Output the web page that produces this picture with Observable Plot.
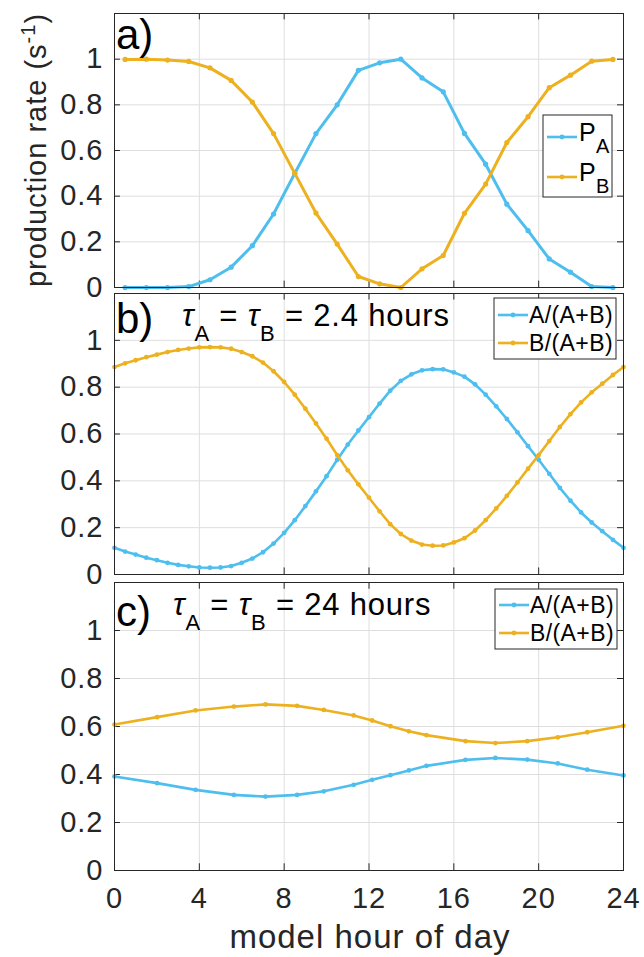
<!DOCTYPE html>
<html>
<head>
<meta charset="utf-8">
<script src="https://cdn.jsdelivr.net/npm/d3@7"></script>
<script src="https://cdn.jsdelivr.net/npm/@observablehq/plot@0.6"></script>
<style>
  body { margin: 0; background: #fff; }
  #fig { position: relative; width: 644px; height: 957px; overflow: hidden; font-family: "Liberation Sans", Arial, Helvetica, sans-serif; }
  #fig svg { position: absolute; left: 0; overflow: visible; }
</style>
</head>
<body>
<div id="fig"></div>
<script>
// ---------- data ----------
// panel a: production rates at hourly mid-points
const hoursA = [0.5,1.5,2.5,3.5,4.5,5.5,6.5,7.5,8.5,9.5,10.5,11.5,12.5,13.5,14.5,15.5,16.5,17.5,18.5,19.5,20.5,21.5,22.5,23.5];
const prodA  = [0,0,0,0.004,0.034,0.089,0.183,0.322,0.5,0.674,0.80,0.951,0.984,1.0,0.918,0.857,0.675,0.54,0.365,0.249,0.125,0.067,0.004,0];
const prodB  = [0.999,1.0,0.996,0.99,0.962,0.907,0.812,0.674,0.5,0.326,0.19,0.048,0.016,0,0.082,0.14,0.325,0.453,0.635,0.748,0.875,0.93,0.991,0.999];

// panel b: tau = 2.4 hours
const hoursB = [0,0.5,1,1.5,2,2.5,3,3.5,4,4.5,5,5.5,6,6.5,7,7.5,8,8.5,9,9.5,10,10.5,11,11.5,12,12.5,13,13.5,14,14.5,15,15.5,16,16.5,17,17.5,18,18.5,19,19.5,20,20.5,21,21.5,22,22.5,23,23.5,24];
const fracA_b = [0.114,0.098,0.085,0.072,0.061,0.050,0.041,0.035,0.030,0.029,0.030,0.036,0.050,0.068,0.095,0.132,0.178,0.232,0.292,0.355,0.420,0.490,0.555,0.615,0.672,0.730,0.785,0.827,0.855,0.872,0.877,0.876,0.863,0.845,0.812,0.768,0.718,0.664,0.607,0.548,0.490,0.430,0.370,0.315,0.265,0.222,0.185,0.148,0.114];
const fracB_b = [0.886,0.902,0.915,0.928,0.939,0.950,0.959,0.965,0.970,0.971,0.970,0.964,0.950,0.932,0.905,0.868,0.822,0.768,0.708,0.645,0.580,0.510,0.445,0.385,0.328,0.270,0.215,0.173,0.145,0.128,0.123,0.124,0.137,0.155,0.188,0.232,0.282,0.336,0.393,0.452,0.510,0.570,0.630,0.685,0.735,0.778,0.815,0.852,0.886];

// panel c: tau = 24 hours
const hoursC = [0,2.01,3.82,5.63,7.12,8.61,9.87,11.28,12.15,13.01,13.88,14.71,16.55,17.96,19.46,20.9,22.29,24];
const fracA_c = [0.392,0.364,0.336,0.315,0.308,0.315,0.33,0.357,0.378,0.397,0.417,0.436,0.461,0.469,0.462,0.446,0.42,0.396];
const fracB_c = [0.608,0.639,0.667,0.683,0.692,0.686,0.669,0.646,0.625,0.601,0.58,0.564,0.539,0.531,0.539,0.555,0.576,0.603];

// ticks
const xTickValues = [0,4,8,12,16,20,24];
const yTickValues = [0,0.2,0.4,0.6,0.8,1];
const xGrid = [4,8,12,16,20];
const yGrid = [0.2,0.4,0.6,0.8,1];

// ---------- drawing ----------
const W = 644, ML = 114, MR = 21;
const BLUE = "#4DBEEE", ORANGE = "#EDB120", INK = "#262626";
const FONT = '"Liberation Sans", Arial, Helvetica, sans-serif';
const fig = document.getElementById("fig");

const rows = (xs, ys) => xs.map((t, i) => ({t, v: ys[i]}));

function panel({top, height, mt, mb, series, showX}) {
  const marks = [
    Plot.ruleX(xGrid, {stroke: "#dedede", strokeWidth: 1}),
    Plot.ruleY(yGrid, {stroke: "#dedede", strokeWidth: 1}),
    Plot.ruleX(xGrid, {y1: 0, y2: 0.028, stroke: INK}),
    Plot.ruleX(xGrid, {y1: 1.172, y2: 1.2, stroke: INK}),
    Plot.ruleY(yGrid, {x1: 0, x2: 0.28, stroke: INK}),
    Plot.ruleY(yGrid, {x1: 23.72, x2: 24, stroke: INK}),
    Plot.axisY({ticks: yTickValues, tickSize: 0, tickPadding: 11, tickFormat: d => String(d), fontSize: 29, label: null})
  ];
  if (showX) marks.push(Plot.axisX({ticks: xTickValues, tickSize: 0, tickPadding: 17, tickFormat: d => String(d), fontSize: 29, label: null}));
  for (const s of series) {
    marks.push(Plot.line(s.data, {x: "t", y: "v", stroke: s.color, strokeWidth: s.lw}));
    marks.push(Plot.dot(s.data, {x: "t", y: "v", fill: s.color, r: s.r}));
  }
  marks.push(Plot.frame({stroke: INK, strokeWidth: 1}));
  const svg = Plot.plot({
    width: W, height, marginLeft: ML, marginRight: MR, marginTop: mt, marginBottom: mb,
    x: showX ? {domain: [0, 24]} : {domain: [0, 24], axis: null},
    y: {domain: [0, 1.2]},
    style: {background: "transparent", color: INK, fontFamily: FONT, overflow: "visible", letterSpacing: "1px"},
    marks
  });
  svg.style.top = top + "px";
  fig.appendChild(svg);
}

panel({top: 0, height: 290, mt: 13, mb: 3, showX: false, series: [
  {data: rows(hoursA, prodA), color: BLUE, lw: 3, r: 2.6},
  {data: rows(hoursA, prodB), color: ORANGE, lw: 3, r: 2.6}
]});
panel({top: 290, height: 287, mt: 3, mb: 3, showX: false, series: [
  {data: rows(hoursB, fracA_b), color: BLUE, lw: 2.6, r: 2.4},
  {data: rows(hoursB, fracB_b), color: ORANGE, lw: 2.6, r: 2.4}
]});
panel({top: 577, height: 380, mt: 5, mb: 87, showX: true, series: [
  {data: rows(hoursC, fracA_c), color: BLUE, lw: 2.6, r: 2.4},
  {data: rows(hoursC, fracB_c), color: ORANGE, lw: 2.6, r: 2.4}
]});

// ---------- annotations & legends ----------
const ov = d3.select(fig).append("svg")
  .attr("width", W).attr("height", 957)
  .style("top", "0px").style("pointer-events", "none")
  .style("font-family", FONT).style("white-space", "pre");

// axis titles
const yl = ov.append("text").attr("transform", "translate(46,150) rotate(-90)")
  .attr("text-anchor", "middle").attr("font-size", 29).attr("fill", INK)
  .style("letter-spacing", "1px");
yl.append("tspan").text("production rate (s");
yl.append("tspan").attr("font-size", 20).attr("dy", -11).text("-1");
yl.append("tspan").attr("dy", 11).text(")");

ov.append("text").attr("x", 370).attr("y", 948).attr("text-anchor", "middle")
  .attr("font-size", 33).attr("fill", INK).style("letter-spacing", "1px").text("model hour of day");

// panel letters
[["a)", 49], ["b)", 333], ["c)", 626]].forEach(([s, y]) =>
  ov.append("text").attr("x", 116).attr("y", y).attr("font-size", 42).attr("fill", "#000").text(s));

// tau titles
function tauTitle(x, y, rest) {
  const t = ov.append("text").attr("x", x).attr("y", y).attr("font-size", 31).attr("fill", "#000")
    .style("letter-spacing", "0.8px");
  t.append("tspan").attr("font-style", "italic").text("τ");
  t.append("tspan").attr("font-size", 22).attr("dy", 15).text("A");
  t.append("tspan").attr("dy", -15).text(" = ");
  t.append("tspan").attr("font-style", "italic").text("τ");
  t.append("tspan").attr("font-size", 22).attr("dy", 15).text("B");
  t.append("tspan").attr("dy", -15).text(" = " + rest);
}
tauTitle(182, 326, "2.4 hours");
tauTitle(173, 615, "24 hours");

// legends
function legend(box, items) {
  ov.append("rect").attr("x", box.x).attr("y", box.y).attr("width", box.w).attr("height", box.h)
    .attr("fill", "#fff").attr("stroke", INK).attr("stroke-width", 1);
  for (const it of items) {
    ov.append("line").attr("x1", it.x1).attr("x2", it.x2).attr("y1", it.ly).attr("y2", it.ly)
      .attr("stroke", it.color).attr("stroke-width", 2.6);
    ov.append("circle").attr("cx", (it.x1 + it.x2) / 2).attr("cy", it.ly).attr("r", 2.4).attr("fill", it.color);
    const t = ov.append("text").attr("x", it.tx).attr("y", it.ty).attr("font-size", it.fs).attr("fill", "#000")
      .style("letter-spacing", "0.4px");
    t.append("tspan").text(it.label);
    if (it.sub) t.append("tspan").attr("font-size", it.subfs).attr("dy", 12).text(it.sub);
  }
}
legend({x: 543, y: 115, w: 69, h: 82}, [
  {x1: 547, x2: 577, ly: 137, color: BLUE, tx: 579, ty: 141, fs: 25, label: "P", sub: "A", subfs: 20},
  {x1: 547, x2: 577, ly: 177, color: ORANGE, tx: 579, ty: 181, fs: 25, label: "P", sub: "B", subfs: 20}
]);
legend({x: 494, y: 298, w: 122, h: 61}, [
  {x1: 498, x2: 528, ly: 315, color: BLUE, tx: 529, ty: 323, fs: 23, label: "A/(A+B)"},
  {x1: 498, x2: 528, ly: 343, color: ORANGE, tx: 529, ty: 351, fs: 23, label: "B/(A+B)"}
]);
legend({x: 495, y: 589, w: 122, h: 60}, [
  {x1: 499, x2: 529, ly: 605, color: BLUE, tx: 530, ty: 613, fs: 23, label: "A/(A+B)"},
  {x1: 499, x2: 529, ly: 633, color: ORANGE, tx: 530, ty: 641, fs: 23, label: "B/(A+B)"}
]);
</script>
</body>
</html>
